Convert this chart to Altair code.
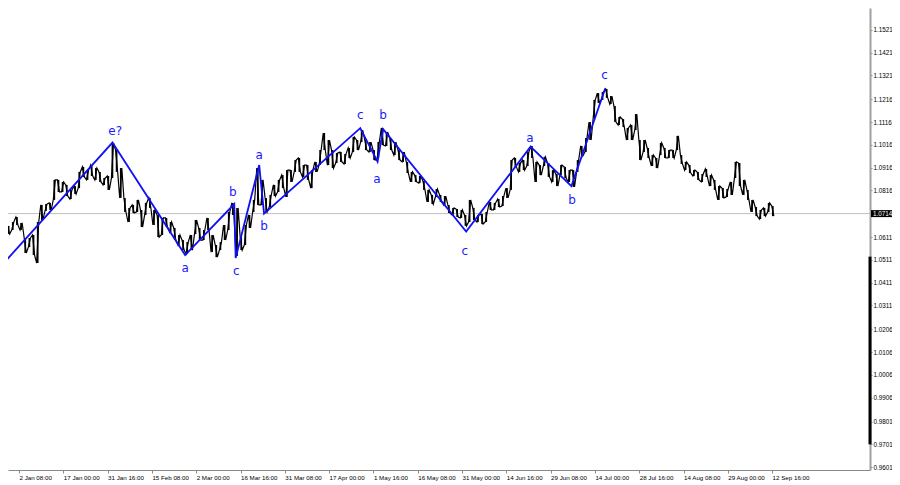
import altair as alt
import pandas as pd

# ---- time axis (H4 bars, one label every 64 bars) ----
tick_labels = ["2 Jan 08:00", "17 Jan 00:00", "31 Jan 16:00", "15 Feb 08:00", "2 Mar 00:00",
               "16 Mar 16:00", "31 Mar 08:00", "17 Apr 00:00", "1 May 16:00", "16 May 08:00",
               "31 May 00:00", "14 Jun 16:00", "29 Jun 08:00", "14 Jul 00:00", "28 Jul 16:00",
               "14 Aug 08:00", "29 Aug 00:00", "12 Sep 16:00"]
bars_per_label = 64
tick_bars = [i * bars_per_label for i in range(len(tick_labels))]

# ---- price axis ----
price_ticks = [1.1621, 1.1521, 1.1421, 1.1321, 1.1216, 1.1116, 1.1016, 1.0916, 1.0816,
               1.0611, 1.0511, 1.0411, 1.0311, 1.0206, 1.0106, 1.0006, 0.9906, 0.9801,
               0.9701, 0.9601]
current_price = 1.0714
scale_bar = [1.0525, 0.9701]

# ---- price samples (every 6 H4 bars, starting at bar -27) ----
first_bar = -27
bar_step = 6
high = [
    1.0664, 1.0668, 1.0660, 1.0677, 1.0699, 1.0673, 1.0607, 1.0607, 1.0620, 1.0677,
    1.0752, 1.0756, 1.0761, 1.0862, 1.0862, 1.0853, 1.0840, 1.0818, 1.0835, 1.0897,
    1.0919, 1.0905, 1.0927, 1.0914, 1.0897, 1.0870, 1.0879, 1.1024, 1.0993, 1.0914,
    1.0783, 1.0739, 1.0752, 1.0774, 1.0730, 1.0761, 1.0783, 1.0730, 1.0708, 1.0695,
    1.0695, 1.0677, 1.0651, 1.0620, 1.0598, 1.0589, 1.0620, 1.0686, 1.0651, 1.0642,
    1.0695, 1.0620, 1.0576, 1.0589, 1.0664, 1.0721, 1.0761, 1.0739, 1.0611, 1.0664,
    1.0708, 1.0774, 1.0914, 1.0862, 1.0783, 1.0796, 1.0840, 1.0862, 1.0883, 1.0905,
    1.0905, 1.0949, 1.0958, 1.0927, 1.0927, 1.0905, 1.0941, 1.0993, 1.1068, 1.1037,
    1.0993, 1.0980, 1.0984, 1.0976, 1.1002, 1.1050, 1.1037, 1.1081, 1.1037, 1.1028,
    1.0993, 1.1028, 1.1090, 1.1072, 1.1046, 1.1028, 1.0993, 1.0984, 1.0941, 1.0897,
    1.0883, 1.0879, 1.0857, 1.0818, 1.0796, 1.0822, 1.0796, 1.0791, 1.0752, 1.0739,
    1.0734, 1.0730, 1.0708, 1.0774, 1.0739, 1.0708, 1.0712, 1.0721, 1.0765, 1.0761,
    1.0778, 1.0791, 1.0826, 1.0949, 1.0958, 1.0936, 1.0949, 1.0984, 1.1011, 1.0941,
    1.0927, 1.0963, 1.0936, 1.0905, 1.0888, 1.0927, 1.0919, 1.0905, 1.0905, 1.0949,
    1.1011, 1.1046, 1.1116, 1.1213, 1.1243, 1.1248, 1.1261, 1.1230, 1.1186, 1.1138,
    1.1129, 1.1090, 1.1103, 1.1151, 1.1037, 1.1037, 1.1002, 1.0971, 1.0958, 1.1024,
    1.1002, 1.0993, 1.0993, 1.1055, 1.0971, 1.0941, 1.0927, 1.0905, 1.0897, 1.0888,
    1.0910, 1.0883, 1.0862, 1.0835, 1.0826, 1.0822, 1.0853, 1.0941, 1.0936, 1.0862,
    1.0818, 1.0774, 1.0743, 1.0730, 1.0739, 1.0761, 1.0747,
]
low = [
    1.0638, 1.0633, 1.0624, 1.0642, 1.0664, 1.0642, 1.0541, 1.0567, 1.0532, 1.0497,
    1.0686, 1.0725, 1.0730, 1.0774, 1.0809, 1.0809, 1.0791, 1.0778, 1.0800, 1.0826,
    1.0875, 1.0862, 1.0879, 1.0862, 1.0853, 1.0840, 1.0818, 1.0870, 1.0897, 1.0783,
    1.0721, 1.0677, 1.0717, 1.0721, 1.0655, 1.0708, 1.0739, 1.0664, 1.0611, 1.0620,
    1.0655, 1.0633, 1.0598, 1.0576, 1.0554, 1.0537, 1.0554, 1.0624, 1.0598, 1.0598,
    1.0642, 1.0545, 1.0523, 1.0554, 1.0598, 1.0642, 1.0708, 1.0528, 1.0554, 1.0576,
    1.0651, 1.0721, 1.0752, 1.0752, 1.0721, 1.0743, 1.0791, 1.0809, 1.0826, 1.0787,
    1.0853, 1.0897, 1.0897, 1.0875, 1.0862, 1.0826, 1.0897, 1.0927, 1.0993, 1.0927,
    1.0914, 1.0936, 1.0941, 1.0932, 1.0958, 1.0984, 1.0993, 1.1028, 1.0993, 1.0984,
    1.0949, 1.0958, 1.1015, 1.1011, 1.0993, 1.0971, 1.0949, 1.0941, 1.0892, 1.0853,
    1.0853, 1.0848, 1.0818, 1.0765, 1.0756, 1.0787, 1.0765, 1.0752, 1.0717, 1.0708,
    1.0699, 1.0695, 1.0660, 1.0677, 1.0686, 1.0677, 1.0668, 1.0677, 1.0730, 1.0730,
    1.0743, 1.0747, 1.0783, 1.0818, 1.0919, 1.0897, 1.0905, 1.0923, 1.0958, 1.0853,
    1.0883, 1.0923, 1.0875, 1.0853, 1.0835, 1.0883, 1.0870, 1.0853, 1.0831, 1.0897,
    1.0967, 1.0984, 1.1037, 1.1134, 1.1200, 1.1213, 1.1222, 1.1195, 1.1116, 1.1103,
    1.1094, 1.1037, 1.1037, 1.1081, 1.0949, 1.0984, 1.0958, 1.0923, 1.0914, 1.0971,
    1.0958, 1.0958, 1.0958, 1.0993, 1.0932, 1.0905, 1.0892, 1.0879, 1.0862, 1.0853,
    1.0875, 1.0835, 1.0818, 1.0774, 1.0783, 1.0787, 1.0796, 1.0870, 1.0835, 1.0796,
    1.0774, 1.0721, 1.0703, 1.0690, 1.0703, 1.0721, 1.0703,
]

# ---- wave markup ----
wave_bars = [-27, 135, 240, 311, 313, 347, 354, 493, 518, 526, 646, 739, 798, 847]
wave_prices = [1.0480, 1.1026, 1.0532, 1.0756, 1.0519, 1.0927, 1.0714, 1.1089,
               1.0942, 1.1085, 1.0635, 1.1008, 1.0835, 1.1264]
label_text = ["e?", "a", "b", "c", "a", "b", "c", "a", "b", "c", "a", "b", "c"]
label_bars = [139, 240, 309, 314, 347, 354, 493, 517, 526, 644, 738, 799, 846]
label_prices = [1.1077, 1.0475, 1.0809, 1.0464, 1.0971, 1.0660, 1.1145, 1.0866,
                1.1145, 1.0548, 1.1046, 1.0774, 1.1323]

# ---- build tables ----
bars = [first_bar + bar_step * i for i in range(len(high))]
df_bars = pd.DataFrame({"bar": bars, "price": low, "price2": high})

zz = []
k = 0
for i, (b, h, l) in enumerate(zip(bars, high, low)):
    pair = [(b - 1.5, h), (b + 1.5, l)] if i % 2 == 0 else [(b - 1.5, l), (b + 1.5, h)]
    for xb, p in pair:
        zz.append({"bar": xb, "price": p, "k": k})
        k += 1
df_zz = pd.DataFrame(zz)

df_wave = pd.DataFrame({"bar": wave_bars, "price": wave_prices, "k": list(range(len(wave_bars)))})
df_lab = pd.DataFrame({"bar": label_bars, "price": label_prices, "txt": label_text})
df_cur = pd.DataFrame({"price": [current_price], "txt": [f"{current_price:.4f}"]})
df_sb = pd.DataFrame({"price": [scale_bar[0]], "price2": [scale_bar[1]]})

W, H = 862, 462
RIGHT = 22
xscale = alt.Scale(domain=[-15.9, 1229.4], nice=False, zero=False)
yscale = alt.Scale(domain=[0.95884, 1.16166], nice=False, zero=False)

label_array = "[" + ",".join(f"'{t}'" for t in tick_labels) + "]"
xaxis = alt.Axis(values=tick_bars, labelExpr=f"{label_array}[round(datum.value/{bars_per_label})]",
                 title=None, grid=False, orient="bottom", labelAlign="left", labelBaseline="top",
                 labelPadding=1, tickSize=3, domainColor="#8a8a8a", tickColor="#8a8a8a",
                 labelFont="Liberation Sans", labelFontSize=6.2, labelColor="#000000",
                 labelOverlap=False, labelFlush=False, domainWidth=1)
yaxis = alt.Axis(values=price_ticks, format=".4f", title=None, grid=False, orient="right",
                 labelPadding=1, tickSize=2, domainColor="#a0a0a0", tickColor="#8a8a8a",
                 domainWidth=2, labelFont="Liberation Sans", labelFontSize=6.3,
                 labelColor="#000000", labelOverlap=False, labelFlush=False, labelBaseline="middle")

X = alt.X("bar:Q", scale=xscale, axis=xaxis)
Y = alt.Y("price:Q", scale=yscale, axis=yaxis)

cur_line = alt.Chart(df_cur).mark_rule(color="#c0c0c0", strokeWidth=1).encode(
    y=Y, x=alt.value(0), x2=alt.value(W))

bar_rules = alt.Chart(df_bars).mark_rule(color="#000000", strokeWidth=1.7, clip=True).encode(
    x=X, y=Y, y2="price2:Q")

zig = alt.Chart(df_zz).mark_line(color="#000000", strokeWidth=1.2, clip=True).encode(
    x=X, y=Y, order="k:Q")

wave = alt.Chart(df_wave).mark_line(color="#1010f5", strokeWidth=1.8, clip=True).encode(
    x=X, y=Y, order="k:Q")

labels = alt.Chart(df_lab).mark_text(color="#1a1aff", font="DejaVu Sans", fontSize=12,
                                     align="center", baseline="middle").encode(
    x=X, y=Y, text="txt:N")

sbar = alt.Chart(df_sb).mark_rule(color="#000000", strokeWidth=3).encode(
    x=alt.value(W), y=Y, y2="price2:Q")

box = alt.Chart(df_cur).mark_rect(color="#000000", height=7).encode(
    y=Y, x=alt.value(W + 1), x2=alt.value(W + RIGHT))
box_txt = alt.Chart(df_cur).mark_text(color="#ffffff", font="Liberation Sans", fontSize=6.3,
                                      align="left", baseline="middle").encode(
    y=Y, x=alt.value(W + 3), text="txt:N")

chart = alt.layer(cur_line, bar_rules, zig, wave, labels, sbar, box, box_txt).properties(
    width=W, height=H,
    padding={"left": 0, "top": 0, "right": RIGHT, "bottom": 12},
    autosize=alt.AutoSizeParams(type="none"),
    background="#ffffff",
).configure_view(strokeWidth=0)

chart.save("out.html", embed_options={"renderer": "svg", "actions": False})
